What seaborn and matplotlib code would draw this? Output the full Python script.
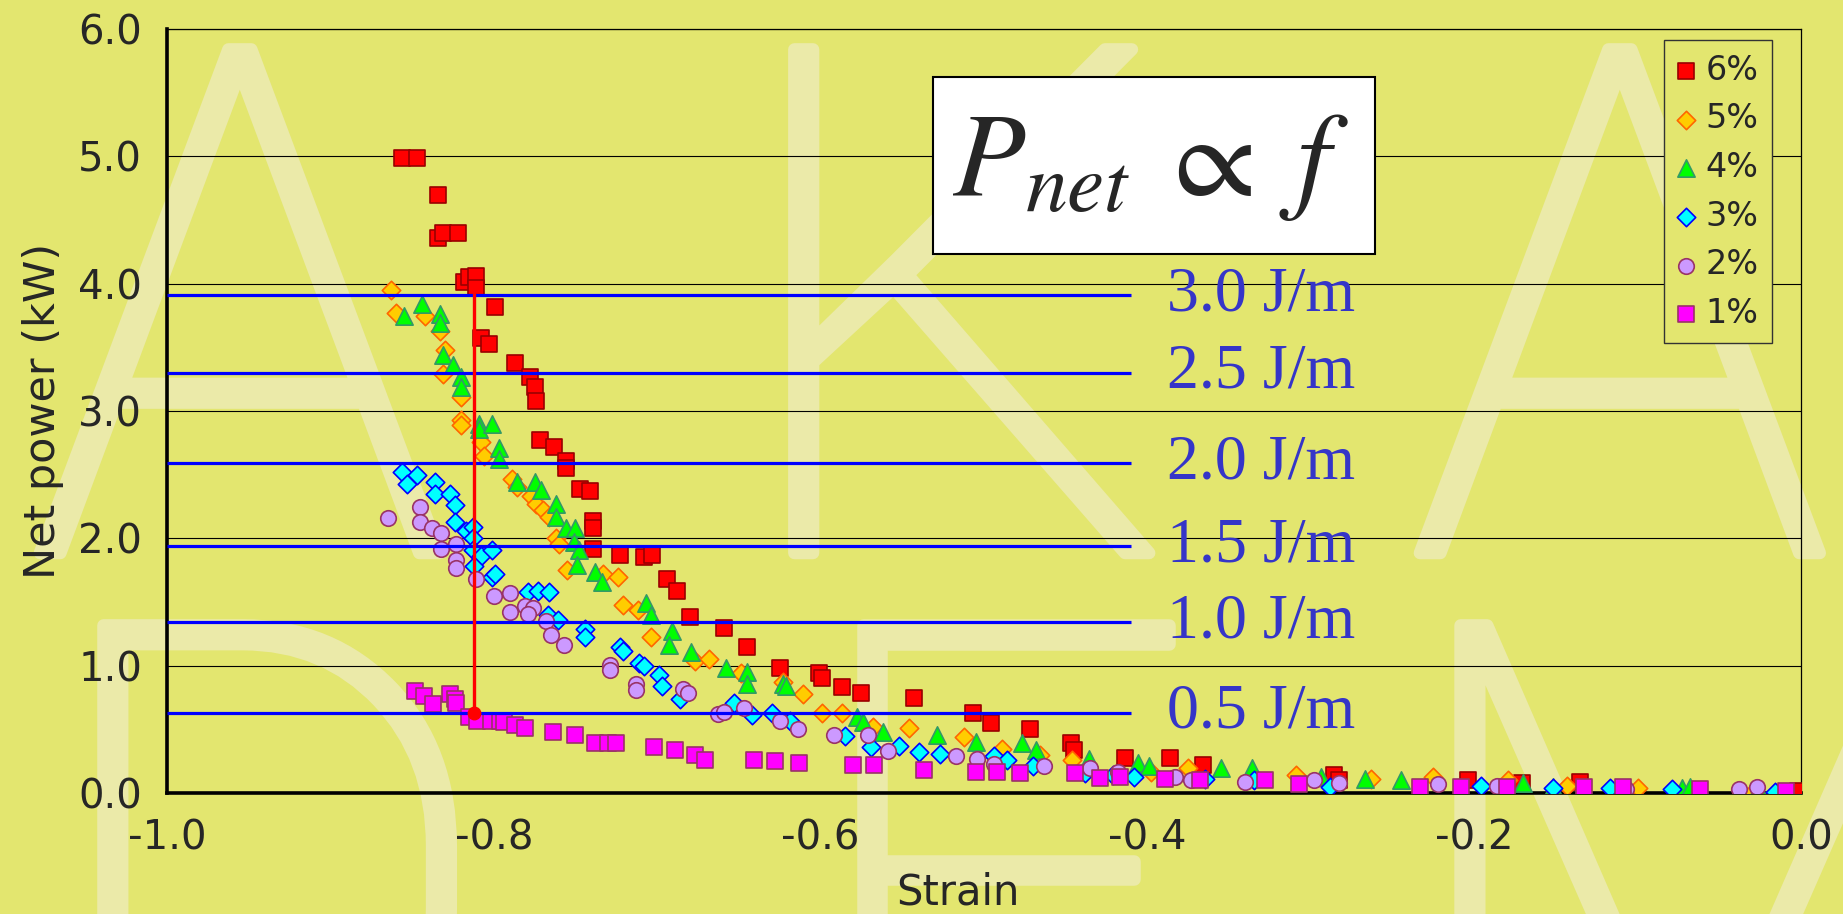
import matplotlib
matplotlib.use("Agg")
import matplotlib.pyplot as plt
import matplotlib.patheffects as pe
import seaborn as sns
import numpy as np
from matplotlib.patches import Rectangle
from matplotlib.ticker import FormatStrFormatter, MultipleLocator

# --- data --------------------------------------------------------------
x6 = [-0.856, -0.847, -0.834, -0.834, -0.831, -0.822, -0.818, -0.815, -0.811, -0.811,
      -0.799, -0.808, -0.803, -0.787, -0.778, -0.775, -0.774, -0.772, -0.763, -0.756,
      -0.756, -0.747, -0.741, -0.739, -0.739, -0.739, -0.723, -0.708, -0.703, -0.694,
      -0.688, -0.680, -0.659, -0.645, -0.625, -0.601, -0.599, -0.587, -0.575, -0.543,
      -0.507, -0.496, -0.472, -0.447, -0.445, -0.414, -0.386, -0.366, -0.286, -0.283,
      -0.204, -0.171, -0.135, -0.002]
y6 = [4.99, 4.99, 4.70, 4.36, 4.40, 4.40, 4.01, 4.05, 4.06, 3.97,
      3.82, 3.57, 3.53, 3.38, 3.27, 3.19, 3.08, 2.77, 2.72, 2.61,
      2.55, 2.39, 2.37, 2.14, 2.08, 1.92, 1.87, 1.855, 1.87, 1.68,
      1.59, 1.38, 1.30, 1.15, 0.98, 0.945, 0.906, 0.83, 0.79, 0.75,
      0.63, 0.55, 0.50, 0.39, 0.34, 0.28, 0.28, 0.22, 0.14, 0.10,
      0.10, 0.08, 0.09, 0.02]

x5 = [-0.863, -0.860, -0.842, -0.833, -0.830, -0.831, -0.820, -0.820, -0.820, -0.808,
      -0.806, -0.789, -0.786, -0.777, -0.774, -0.770, -0.766, -0.762, -0.760, -0.755,
      -0.733, -0.724, -0.721, -0.712, -0.704, -0.677, -0.668, -0.649, -0.623, -0.611,
      -0.599, -0.587, -0.568, -0.546, -0.512, -0.489, -0.466, -0.446, -0.398, -0.375,
      -0.309, -0.263, -0.225, -0.179, -0.143, -0.100, -0.030]
y5 = [3.95, 3.77, 3.75, 3.63, 3.48, 3.29, 3.11, 2.93, 2.89, 2.76,
      2.65, 2.47, 2.40, 2.33, 2.27, 2.22, 2.17, 2.00, 1.96, 1.75,
      1.72, 1.70, 1.48, 1.44, 1.23, 1.04, 1.05, 0.94, 0.87, 0.78,
      0.63, 0.63, 0.52, 0.51, 0.44, 0.35, 0.30, 0.26, 0.17, 0.20,
      0.14, 0.11, 0.13, 0.10, 0.06, 0.04, 0.00]

x4 = [-0.855, -0.844, -0.833, -0.833, -0.831, -0.825, -0.820, -0.820, -0.809, -0.809,
      -0.801, -0.797, -0.797, -0.786, -0.775, -0.771, -0.762, -0.762, -0.756, -0.750,
      -0.751, -0.748, -0.749, -0.738, -0.734, -0.707, -0.704, -0.691, -0.693, -0.679,
      -0.658, -0.645, -0.645, -0.623, -0.621, -0.578, -0.574, -0.562, -0.529, -0.505,
      -0.477, -0.468, -0.436, -0.406, -0.399, -0.355, -0.336, -0.294, -0.267, -0.245,
      -0.170, -0.152, -0.073, -0.068, -0.026]
y4 = [3.75, 3.84, 3.76, 3.69, 3.44, 3.36, 3.27, 3.19, 2.90, 2.86,
      2.90, 2.71, 2.62, 2.44, 2.44, 2.38, 2.27, 2.17, 2.08, 2.08,
      1.97, 1.91, 1.79, 1.74, 1.66, 1.49, 1.40, 1.27, 1.16, 1.11,
      0.98, 0.95, 0.86, 0.86, 0.84, 0.60, 0.56, 0.48, 0.46, 0.40,
      0.39, 0.34, 0.27, 0.24, 0.21, 0.195, 0.195, 0.13, 0.11, 0.10,
      0.08, 0.05, 0.04, 0.05, 0.04]

x3 = [-0.856, -0.847, -0.853, -0.836, -0.836, -0.827, -0.824, -0.824, -0.817, -0.813,
      -0.813, -0.813, -0.808, -0.801, -0.812, -0.801, -0.799, -0.779, -0.773, -0.766,
      -0.767, -0.761, -0.744, -0.744, -0.723, -0.721, -0.711, -0.708, -0.699, -0.697,
      -0.686, -0.653, -0.642, -0.630, -0.619, -0.585, -0.569, -0.552, -0.540, -0.527,
      -0.494, -0.486, -0.470, -0.438, -0.421, -0.408, -0.365, -0.335, -0.288, -0.196,
      -0.152, -0.117, -0.079, -0.016]
y3 = [2.52, 2.50, 2.43, 2.44, 2.35, 2.35, 2.26, 2.13, 2.06, 2.09,
      2.00, 1.91, 1.86, 1.91, 1.78, 1.70, 1.72, 1.58, 1.59, 1.58,
      1.40, 1.36, 1.29, 1.23, 1.15, 1.12, 1.02, 1.00, 0.93, 0.84,
      0.74, 0.71, 0.61, 0.63, 0.57, 0.45, 0.365, 0.37, 0.325, 0.31,
      0.29, 0.26, 0.21, 0.16, 0.14, 0.13, 0.11, 0.10, 0.05, 0.06,
      0.04, 0.04, 0.03, 0.01]

x2 = [-0.865, -0.845, -0.845, -0.838, -0.832, -0.832, -0.823, -0.823, -0.823, -0.811,
      -0.800, -0.790, -0.790, -0.781, -0.776, -0.779, -0.768, -0.765, -0.757, -0.729,
      -0.729, -0.713, -0.713, -0.684, -0.681, -0.663, -0.659, -0.647, -0.625, -0.614,
      -0.592, -0.571, -0.559, -0.517, -0.504, -0.494, -0.463, -0.435, -0.418, -0.383,
      -0.373, -0.340, -0.298, -0.283, -0.222, -0.186, -0.107, -0.038, -0.027]
y2 = [2.16, 2.25, 2.13, 2.08, 2.04, 1.92, 1.96, 1.83, 1.77, 1.68,
      1.55, 1.57, 1.42, 1.47, 1.45, 1.41, 1.35, 1.24, 1.16, 1.01,
      0.97, 0.86, 0.81, 0.815, 0.79, 0.62, 0.635, 0.665, 0.57, 0.50,
      0.46, 0.46, 0.33, 0.29, 0.27, 0.23, 0.21, 0.20, 0.17, 0.13,
      0.10, 0.085, 0.10, 0.08, 0.07, 0.06, 0.03, 0.03, 0.045]

x1 = [-0.848, -0.843, -0.837, -0.827, -0.824, -0.823, -0.815, -0.810, -0.802, -0.796,
      -0.794, -0.787, -0.781, -0.764, -0.750, -0.738, -0.730, -0.725, -0.702, -0.689,
      -0.677, -0.671, -0.641, -0.628, -0.613, -0.580, -0.567, -0.537, -0.505, -0.492,
      -0.478, -0.444, -0.429, -0.417, -0.389, -0.368, -0.328, -0.307, -0.233, -0.208,
      -0.180, -0.133, -0.109, -0.062, -0.009]
y1 = [0.80, 0.76, 0.70, 0.78, 0.74, 0.705, 0.60, 0.57, 0.57, 0.57,
      0.56, 0.535, 0.51, 0.48, 0.46, 0.39, 0.39, 0.39, 0.365, 0.34,
      0.30, 0.26, 0.26, 0.25, 0.235, 0.22, 0.22, 0.18, 0.17, 0.17,
      0.16, 0.155, 0.12, 0.13, 0.11, 0.10, 0.10, 0.07, 0.05, 0.05,
      0.05, 0.05, 0.05, 0.03, 0.02]

series_labels = ["6%", "5%", "4%", "3%", "2%", "1%"]

# constant-energy lines (kW at given J/m)
energy_labels = ["0.5 J/m", "1.0 J/m", "1.5 J/m", "2.0 J/m", "2.5 J/m", "3.0 J/m"]
energy_power = [0.63, 1.34, 1.94, 2.59, 3.30, 3.91]
energy_line_end = -0.41

# red marker line
marker_strain = -0.812
marker_power = [0.63, 3.92]

# --- styling -----------------------------------------------------------
bg = "#e3e66f"
sns.set_style("white")
plt.rcParams["font.family"] = ["DejaVu Sans"]
plt.rcParams["mathtext.fontset"] = "stix"

fig = plt.figure(figsize=(18.43, 9.14), dpi=100, facecolor=bg)
ax = fig.add_axes([0.0906, 0.1322, 0.8866, 0.8361])
ax.set_facecolor("none")

# faint watermark letters behind the chart
wm_col = "#ebeaa9"
wm = dict(fontsize=510, color=wm_col, family=["Roboto", "Lato", "DejaVu Sans"],
          fontweight=100, ha="center", va="top", zorder=-5,
          path_effects=[pe.withStroke(linewidth=9, foreground=wm_col)])
for ch, xc, yt in [("A", 240, 22), ("K", 950, 22), ("A", 1620, 22),
                   ("D", 266, 598), ("E", 995, 598), ("M", 1695, 598)]:
    fig.text(xc / 1843, 1 - yt / 914, ch, **wm)

styles = [
    (x6, y6, "s", 120, "#ff0000", "#990000"),
    (x5, y5, "D", 88, "#ffcc00", "#ff6600"),
    (x4, y4, "^", 155, "#00ff00", "#339966"),
    (x3, y3, "D", 88, "#00ffff", "#0000ff"),
    (x2, y2, "o", 125, "#cc99ff", "#993366"),
    (x1, y1, "s", 125, "#ff00ff", "#993366"),
]
for (xs, ys, mk, sz, fc, ec), lab in zip(styles, series_labels):
    sns.scatterplot(x=xs, y=ys, marker=mk, s=sz, color=fc, edgecolor=ec,
                    linewidth=1.2, label=lab, ax=ax, zorder=3)

# constant energy lines + labels
ax.hlines(energy_power, -1.0, energy_line_end, color="#0000ff", lw=2.3, zorder=4)
for p, lab in zip(energy_power, energy_labels):
    ax.text(-0.388, p, lab, color="#3535c8", fontsize=46, va="center", ha="left",
            family=["Liberation Serif", "DejaVu Serif"], zorder=4)

ax.plot([marker_strain, marker_strain], marker_power, color="#ff0000", lw=2.4, zorder=5)
ax.plot([marker_strain], [marker_power[0]], "o", color="#ff0000", ms=9, zorder=5)

# formula box
ax.add_patch(Rectangle((-0.531, 4.237), 0.270, 1.388, facecolor="white",
                       edgecolor="black", lw=1.5, zorder=5))
ax.text(-0.398, 4.93, r"$P_{net}\;\propto\;f$", fontsize=86, ha="center",
        va="center", zorder=6)

# axes
ax.set_xlim(-1.0, 0.0)
ax.set_ylim(0.0, 6.0)
ax.xaxis.set_major_locator(MultipleLocator(0.2))
ax.yaxis.set_major_locator(MultipleLocator(1.0))
ax.xaxis.set_major_formatter(FormatStrFormatter("%.1f"))
ax.yaxis.set_major_formatter(FormatStrFormatter("%.1f"))
ax.yaxis.grid(True, color="black", lw=0.8)
ax.set_axisbelow(True)
ax.tick_params(axis="both", direction="out", length=11, width=2.4,
               labelsize=29, color="black", pad=7)
for side in ["left", "bottom"]:
    ax.spines[side].set_linewidth(2.6)
    ax.spines[side].set_color("black")
for side in ["top", "right"]:
    ax.spines[side].set_linewidth(0.9)
    ax.spines[side].set_color("black")

ax.set_xlabel("Strain", fontsize=30)
ax.xaxis.set_label_coords(0.484, -0.103)
ax.set_ylabel("Net power (kW)", fontsize=31, labelpad=10)

leg = ax.legend(loc="upper right", bbox_to_anchor=(0.9824, 0.985), fontsize=24,
                frameon=True, fancybox=False, framealpha=1, facecolor=bg,
                edgecolor="#333333", handlelength=0.5, handletextpad=0.35,
                labelspacing=0.47, borderpad=0.4, borderaxespad=0)
leg.get_frame().set_linewidth(1.0)
leg.set_zorder(7)

fig.savefig("out.png", dpi=100, facecolor=bg)
